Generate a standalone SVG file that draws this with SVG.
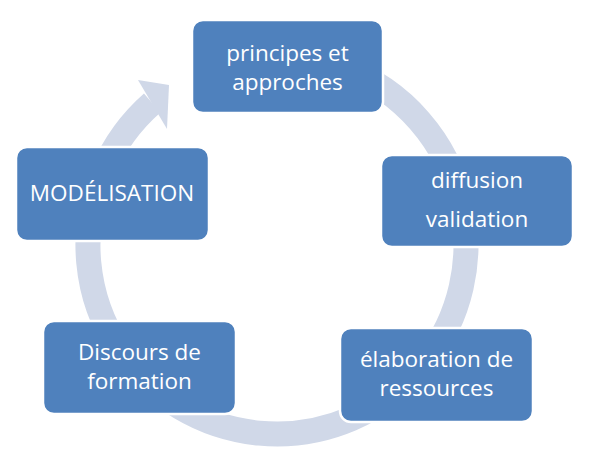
<svg xmlns="http://www.w3.org/2000/svg" width="591" height="464" viewBox="0 0 591 464">
  <style>
    .node rect { fill: #4F81BD; stroke: #FFFFFF; stroke-width: 2.5; }
    .node text { fill: #FFFFFF; font-family: "Open Sans", "Noto Sans", "Liberation Sans", sans-serif; font-size: 22.5px; text-anchor: middle; }
    .ring { fill: none; stroke: #D0D8E8; stroke-width: 25; }
    .head { fill: #D0D8E8; }
  </style>
  <rect width="591" height="464" fill="#FFFFFF"/>
  <g id="connectors">
    <path class="ring" d="M 260.5 56.7 A 189 189 0 1 1 152.2 103"/>
    <polygon class="head" points="138,80 169,85 167,129"/>
  </g>
  <g id="node-principes" class="node">
    <rect x="192" y="20" width="191" height="93" rx="11" ry="11"/>
    <text x="287.5" y="60.5">principes et</text>
    <text x="287.5" y="89.5">approches</text>
  </g>
  <g id="node-diffusion" class="node">
    <rect x="381" y="155" width="192" height="92" rx="11" ry="11"/>
    <text x="477" y="188">diffusion</text>
    <text x="477" y="227">validation</text>
  </g>
  <g id="node-elaboration" class="node">
    <rect x="340" y="328" width="193" height="94" rx="11" ry="11"/>
    <text x="436.5" y="367">élaboration de</text>
    <text x="436.5" y="396">ressources</text>
  </g>
  <g id="node-discours" class="node">
    <rect x="43" y="321" width="193" height="93" rx="11" ry="11"/>
    <text x="139.5" y="360">Discours de</text>
    <text x="139.5" y="389">formation</text>
  </g>
  <g id="node-modelisation" class="node">
    <rect x="16" y="147" width="193" height="94" rx="11" ry="11"/>
    <text x="112" y="201">MODÉLISATION</text>
  </g>
</svg>
